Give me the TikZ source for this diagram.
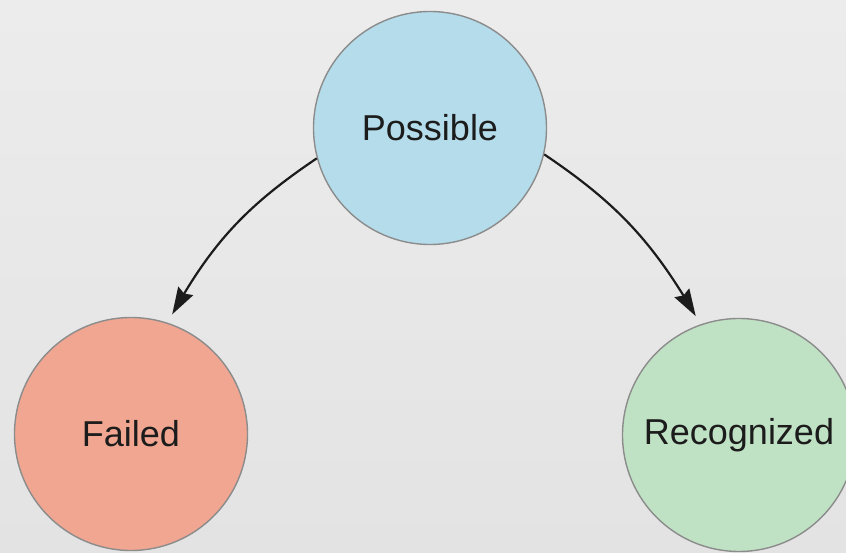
\documentclass[tikz,border=0pt]{standalone}
\usepackage{fontspec}
\setmainfont{Liberation Sans}
\usetikzlibrary{arrows.meta,bending}
\definecolor{bgtop}{HTML}{ECECEC}
\definecolor{bgbot}{HTML}{E3E3E3}
\definecolor{possiblefill}{HTML}{B4DCEB}
\definecolor{failedfill}{HTML}{F0A690}
\definecolor{recogfill}{HTML}{C0E2C4}
\definecolor{ringgray}{HTML}{8C8C8C}
\definecolor{inkdark}{HTML}{1C1C1C}
\tikzset{
  state/.style={circle, draw=ringgray, line width=1.4pt, minimum size=233pt,
    inner sep=0pt, text=inkdark, font=\fontsize{36}{42}\selectfont},
  target/.style={outer sep=10pt},
  trans/.style={draw=inkdark, line width=2.2pt,
    -{Stealth[length=27pt,width=17pt,inset=3pt,flex]}}
}
\begin{document}
\begin{tikzpicture}[x=1pt,y=1pt]
  % backdrop
  \shade[top color=bgtop, bottom color=bgbot] (0,0) rectangle (846,552);
  \useasboundingbox (0,0) rectangle (846,552);

  % states
  \node[state, fill=possiblefill] (possible) at (430,424) {Possible};
  \node[state, target, fill=failedfill] (failed) at (131,118) {Failed};
  \node[state, target, fill=recogfill] (recognized) at (739,117) {Recognized};

  % transitions
  \draw[trans] (possible.195) to[out=214, in=61] (failed.71);
  \draw[trans] (possible.347) to[out=326, in=120] (recognized.110);
\end{tikzpicture}
\end{document}
